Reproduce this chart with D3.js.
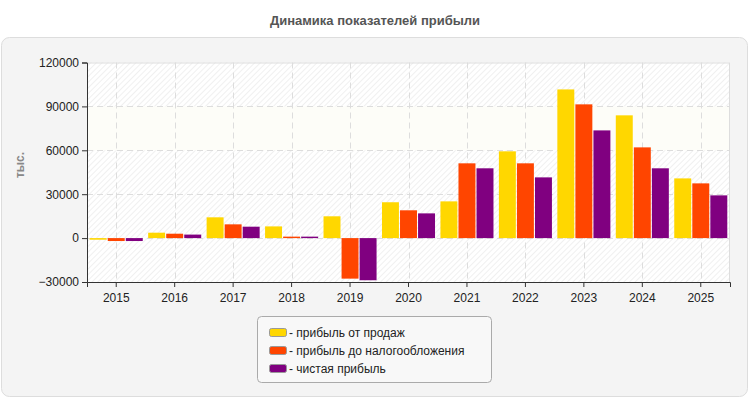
<!DOCTYPE html>
<html><head><meta charset="utf-8">
<script src="https://cdn.jsdelivr.net/npm/d3@7"></script>
<style>body{margin:0;background:#fff;font-family:"Liberation Sans",Arial,sans-serif;}</style>
</head><body><svg id="c" width="750" height="400"></svg>
<script>
const years = ["2015","2016","2017","2018","2019","2020","2021","2022","2023","2024","2025"];
const seriesNames = ["прибыль от продаж","прибыль до налогообложения","чистая прибыль"];
const salesProfit = [-1100, 3700, 14200, 8000, 14900, 24500, 25100, 59300, 101600, 83900, 40800];
const preTaxProfit = [-2000, 3000, 9400, 1000, -27700, 19000, 51100, 51100, 91400, 62000, 37400];
const netProfit = [-2000, 2400, 7800, 1000, -28800, 16900, 47700, 41500, 73600, 47700, 29200];
const yTicks = [-30000, 0, 30000, 60000, 90000, 120000];
const colors = ["#ffd700","#ff4500","#800080"];
const series = [salesProfit, preTaxProfit, netProfit];

const svg = d3.select("#c");
const defs = svg.append("defs");
const pat = defs.append("pattern").attr("id","hatch").attr("patternUnits","userSpaceOnUse")
  .attr("width",4).attr("height",4).attr("patternTransform","rotate(45)");
pat.append("rect").attr("width",4).attr("height",4).attr("fill","#fff");
pat.append("line").attr("x1",0).attr("y1",0).attr("x2",0).attr("y2",4).attr("stroke","#ececec").attr("stroke-width",1.5);

svg.append("text").attr("x",375).attr("y",25).attr("text-anchor","middle")
  .attr("font-size",13).attr("font-weight","bold").attr("fill","#555").text("Динамика показателей прибыли");

svg.append("rect").attr("x",1.5).attr("y",37.5).attr("width",746).attr("height",359).attr("rx",8)
  .attr("fill","#f4f4f4").attr("stroke","#dddddd");

const L=87, R=730, T=62.5, B=282;
const x = d3.scaleBand().domain(years).range([L,R]);
const y = d3.scaleLinear().domain([-30000,120000]).range([B,T]);

svg.append("rect").attr("x",L).attr("y",T).attr("width",R-L).attr("height",B-T).attr("fill","url(#hatch)");
svg.append("rect").attr("x",L).attr("y",y(90000)).attr("width",R-L).attr("height",y(60000)-y(90000)).attr("fill","#fdfdf8");
svg.append("rect").attr("x",L+0.5).attr("y",T+0.5).attr("width",R-L-1).attr("height",B-T).attr("fill","none").attr("stroke","#dddddd");

const g = svg.append("g");
g.selectAll(".hg").data(yTicks.slice(1,-1)).join("line")
  .attr("x1",L).attr("x2",R).attr("y1",d=>Math.round(y(d))+0.5).attr("y2",d=>Math.round(y(d))+0.5)
  .attr("stroke","#dddddd").attr("stroke-dasharray","6,4");
g.selectAll(".vg").data(years).join("line")
  .attr("x1",d=>Math.round(x(d)+x.bandwidth()/2)+0.5).attr("x2",d=>Math.round(x(d)+x.bandwidth()/2)+0.5)
  .attr("y1",T).attr("y2",B).attr("stroke","#dddddd").attr("stroke-dasharray","6,4");

const inner = d3.scaleBand().domain([0,1,2]).range([0,x.bandwidth()]).paddingOuter(0.15).paddingInner(0.06);
series.forEach((vals,si)=>{
  svg.append("g").selectAll("rect").data(vals).join("rect")
    .attr("x",(d,i)=>x(years[i])+inner(si))
    .attr("width",inner.bandwidth())
    .attr("y",d=>y(Math.max(0,d)))
    .attr("height",d=>Math.abs(y(d)-y(0)))
    .attr("fill",colors[si]);
});

const ya = svg.append("g").attr("transform",`translate(${L},0)`)
  .call(d3.axisLeft(y).tickValues(yTicks).tickFormat(d3.format("d")).tickSizeOuter(0).tickSize(5));
ya.select(".domain").attr("stroke","#333");
ya.selectAll(".tick line").attr("stroke","#333");
ya.selectAll("text").attr("font-size",12).attr("fill","#222").attr("font-family","Liberation Sans, Arial");

const xa = svg.append("g").attr("transform",`translate(0,${B})`)
  .call(d3.axisBottom(x).tickSizeOuter(0).tickSize(5));
xa.select(".domain").attr("stroke","#333");
xa.selectAll(".tick line").attr("stroke","#333");
xa.selectAll("text").attr("font-size",12).attr("fill","#222").attr("dy","1em").attr("font-family","Liberation Sans, Arial");

svg.append("text").attr("transform","translate(24,165) rotate(-90)").attr("text-anchor","middle")
  .attr("font-size",12).attr("font-weight","bold").attr("fill","#888").text("тыс.");

const lg = svg.append("g");
lg.append("rect").attr("x",257.5).attr("y",316.5).attr("width",234).attr("height",66).attr("rx",4)
  .attr("fill","#f8f8f8").attr("stroke","#aaaaaa");
seriesNames.forEach((n,i)=>{
  lg.append("rect").attr("x",269.5).attr("y",328.5+i*18).attr("width",17).attr("height",8).attr("rx",2)
    .attr("fill",colors[i]).attr("stroke","#999");
  lg.append("text").attr("x",289).attr("y",337+i*18).attr("font-size",12).attr("fill","#222")
    .attr("font-family","Liberation Sans, Arial").text("- "+n);
});
</script></body></html>
